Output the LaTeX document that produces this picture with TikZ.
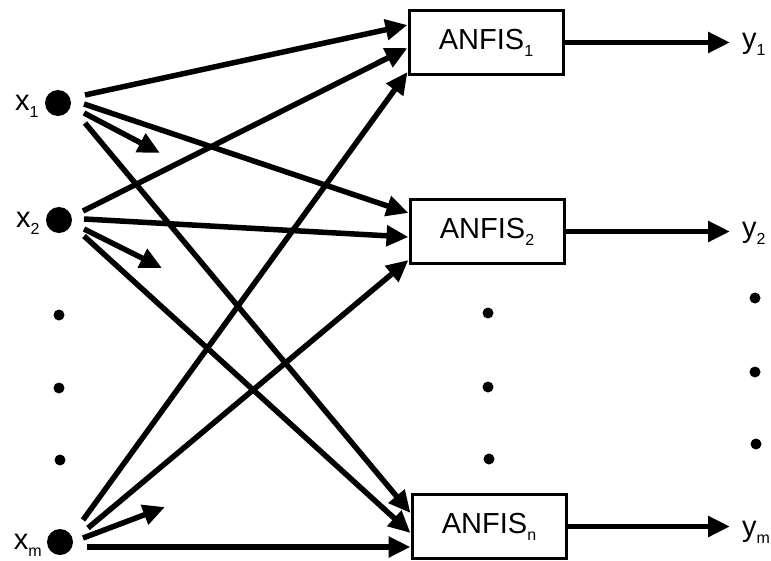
\documentclass[tikz,border=0pt]{standalone}
\usepackage{fontspec}
\setmainfont{Liberation Sans}
\usetikzlibrary{arrows.meta}
\usetikzlibrary{positioning}

\newcommand{\lowidx}[1]{\raisebox{-7pt}{\fontsize{16}{16}\selectfont #1}}

\tikzset{
    input/.style = {circle, fill, inner sep=0, minimum size=26pt},
    smalldot/.style = {circle, fill, inner sep=0, minimum size=11pt},
    anfis/.style = {draw, line width=3pt, minimum width=154pt, minimum height=64pt, inner sep=0},
    wire/.style = {line width=5.5pt, -{Triangle[length=22pt,width=20pt]}},
    outwire/.style = {wire, shorten >=12pt},
    lbl/.style = {inner sep=0}
}

\begin{document}
\begin{tikzpicture}[x=1pt, y=-1pt, font=\fontsize{29}{30}\selectfont]
    \useasboundingbox (0,0) rectangle (771,560);

    \node[input] (x1) at (58,103) {};
    \node[input] (x2) at (59,220) {};
    \node[input] (xm) at (60,542) {};
    \node[lbl, left=6pt of x1, yshift=-3pt] (lx1) {x\lowidx{1}};
    \node[lbl, left=6pt of x2, yshift=-3pt] (lx2) {x\lowidx{2}};
    \node[lbl, left=5pt of xm, yshift=-3pt] (lxm) {x\lowidx{m}};

    \node[smalldot] (ld1) at (59,315) {};
    \node[smalldot] (ld2) at (59,388) {};
    \node[smalldot] (ld3) at (60,460) {};

    \node[anfis] (a1) at (486,42.5) {ANFIS\lowidx{1}};
    \node[anfis] (a2) at (487,231.5) {ANFIS\lowidx{2}};
    \node[anfis] (an) at (489,526.5) {ANFIS\lowidx{n}};

    \node[smalldot] (md1) at (488,313) {};
    \node[smalldot] (md2) at (488,387) {};
    \node[smalldot] (md3) at (489,459) {};

    \node[lbl, anchor=west] (y1) at (742,44) {y\lowidx{1}};
    \node[lbl, anchor=west] (y2) at (742,233) {y\lowidx{2}};
    \node[lbl, anchor=west] (ym) at (742,532) {y\lowidx{m}};

    \node[smalldot] (rd1) at (755,298) {};
    \node[smalldot] (rd2) at (755,372) {};
    \node[smalldot] (rd3) at (756,444) {};

    \coordinate (s1) at (160,153);
    \coordinate (s2) at (162,268);
    \coordinate (sm) at (165,507);

    \draw[wire] ([shift={(27,-8)}]x1.center) -- ([shift={(0,-17.5)}]a1.west);
    \draw[wire] ([shift={(26,1)}]x1.center) -- ([shift={(0,-18.5)}]a2.west);
    \draw[wire] ([shift={(26,10)}]x1.center) -- (s1);
    \draw[wire] ([shift={(27,20)}]x1.center) -- ([shift={(0,-13.5)}]an.west);

    \draw[wire] ([shift={(24,-9)}]x2.center) -- ([shift={(0,5.5)}]a1.west);
    \draw[wire] ([shift={(25,-1)}]x2.center) -- ([shift={(0,5.5)}]a2.west);
    \draw[wire] ([shift={(25,9)}]x2.center) -- (s2);
    \draw[wire] ([shift={(25,16)}]x2.center) -- ([shift={(0,6.5)}]an.west);

    \draw[wire] ([shift={(23,-22)}]xm.center) -- ([shift={(0,29.5)}]a1.west);
    \draw[wire] ([shift={(28,-14)}]xm.center) -- ([shift={(0,28.5)}]a2.west);
    \draw[wire] ([shift={(23,-4)}]xm.center) -- (sm);
    \draw[wire] ([shift={(27,5)}]xm.center) -- ([shift={(0,20.5)}]an.west);

    \draw[outwire] (a1.east) -- (a1.east -| y1.west);
    \draw[outwire] (a2.east) -- (a2.east -| y2.west);
    \draw[outwire] (an.east) -- (an.east -| ym.west);
\end{tikzpicture}
\end{document}
